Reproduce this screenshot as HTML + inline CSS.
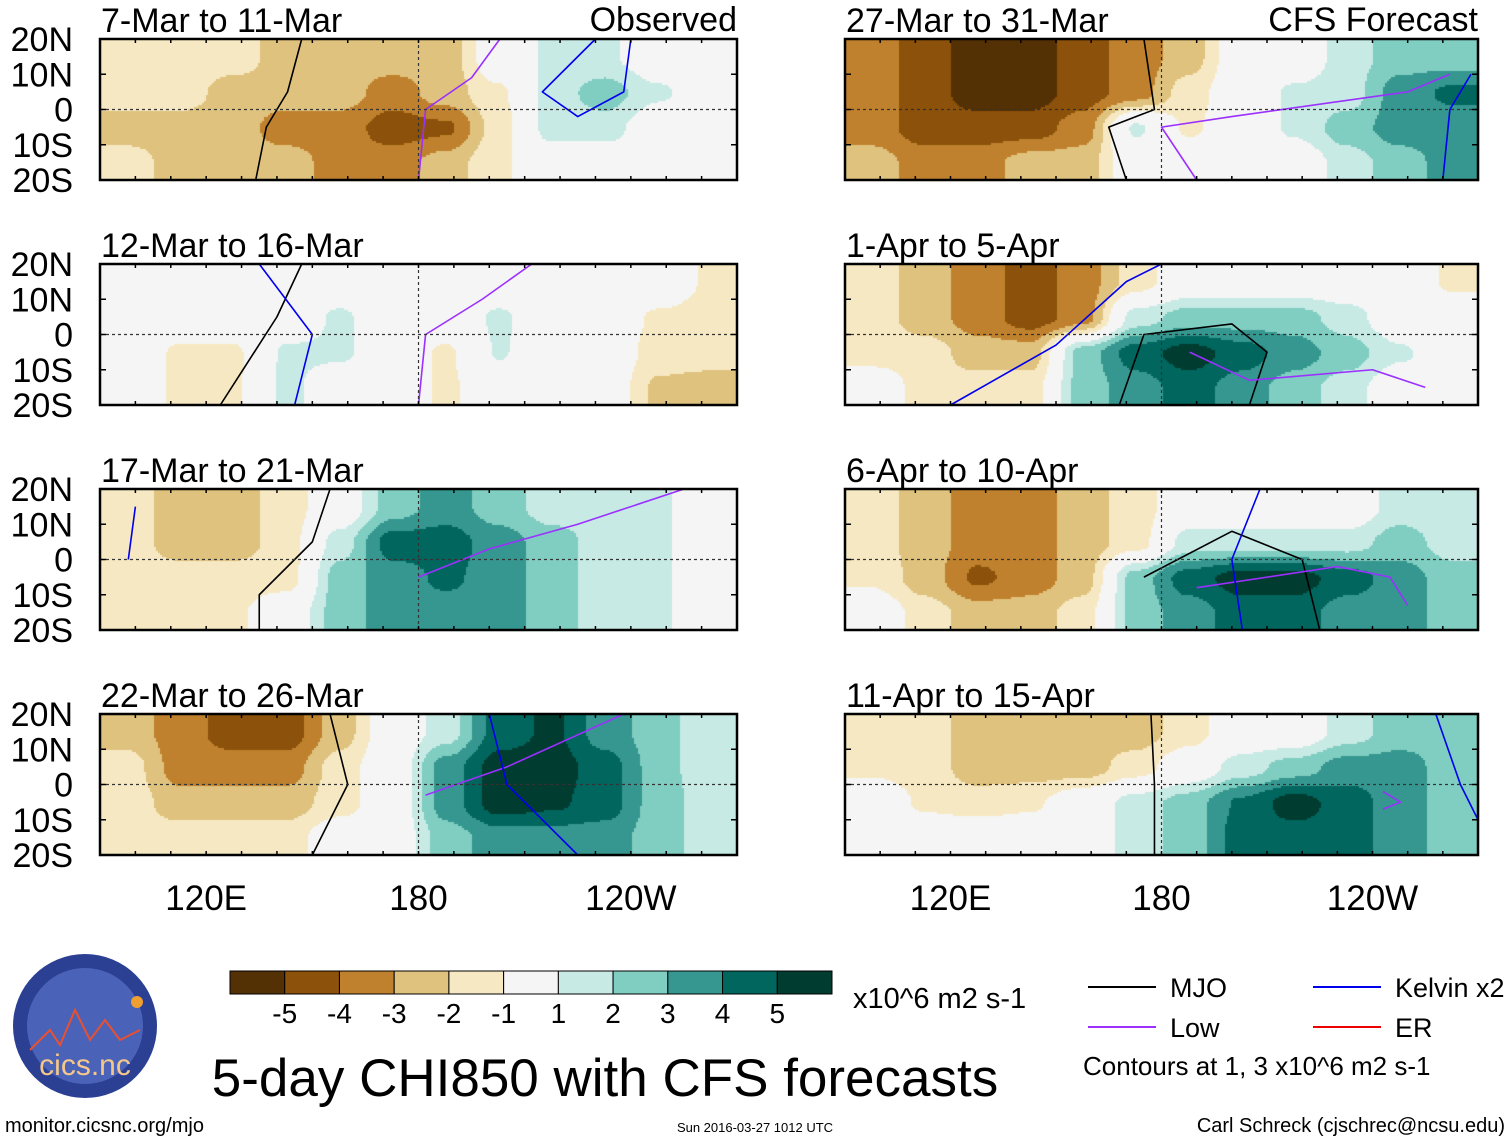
<!DOCTYPE html>
<html><head><meta charset="utf-8"><style>
body{margin:0;background:#fff;width:1510px;height:1142px;overflow:hidden;position:relative;font-family:"Liberation Sans",Arial,sans-serif}
canvas,svg{position:absolute;left:0;top:0}
</style></head><body>
<canvas id="field" width="1510" height="1142"></canvas>
<svg id="ov" width="1510" height="1142"></svg>
<script>
// Grid: 12 lon columns (90E..270E, 15° each) x 4 lat rows (20N-10N,10N-0,0-10S,10S-20S)
const panelTitles=["7-Mar to 11-Mar","12-Mar to 16-Mar","17-Mar to 21-Mar","22-Mar to 26-Mar","27-Mar to 31-Mar","1-Apr to 5-Apr","6-Apr to 10-Apr","11-Apr to 15-Apr"];
const field1=[[-1.2,-1.2,-1.5,-2.5,-2.5,-2.5,-2.5,0,1.2,1.2,0,0],[-1.5,-1.5,-2.5,-2.5,-2.5,-3.5,-2.5,-1.2,1.5,2.5,1.2,0],[-2.5,-2.5,-2.5,-3.5,-3.5,-4.5,-4.2,-1.5,1.5,1.5,0,0],[-1.5,-2.5,-2.5,-2.5,-3.5,-3.5,-2.5,-1.2,0,0,0,0]];
const field2=[[0,0,0,0,0,0,0,0,0,0,0,-1.2],[0,0,0,0,1.2,0,0,1.2,0,0,-1.2,-1.5],[0,-1.2,-1.2,1.2,1.2,0,-1.2,1.1,0,0,-1.5,-1.5],[0,-1.2,-1.2,1.3,0,0,-1.2,0,0,0,-2.2,-2.5]];
const field3=[[-1.5,-2.5,-2.5,-1.5,0,2.5,3.5,2.5,1.5,1.5,1.2,0],[-1.5,-2.5,-2.5,-1.5,1.5,4.5,4.5,3.5,2.5,1.5,1.2,0],[-1.5,-1.5,-1.5,-1.5,2.5,3.5,4.2,3.5,2.5,1.5,1.2,0],[-1.5,-1.5,-1.2,0,2.5,3.5,3.5,3.5,2.5,1.5,1.2,0]];
const field4=[[-2.5,-3.5,-4.5,-4.5,-2.5,0,1.5,4.5,5.2,3.5,2.5,1.2],[-1.5,-3.5,-3.5,-3.5,-1.5,0,3.5,5.5,5.5,4.5,2.5,1.2],[-1.5,-2.5,-2.5,-2.5,-1.5,0,3.5,5.5,5.2,4.5,2.5,1.5],[-1.5,-1.5,-1.5,-1.5,0,0,2.5,3.5,3.5,3.5,2.5,1.5]];
const field5=[[-3.5,-4.5,-5.5,-5.5,-4.5,-3.5,-2.5,0,0,1.5,2.5,2.5],[-3.5,-4.5,-5.5,-5.5,-4.5,-3.5,-1.5,0,1.2,1.5,3.5,4.2],[-3.5,-4.5,-4.5,-4.5,-3.5,1.2,-1.2,0,1.2,2.5,3.5,3.5],[-2.5,-3.5,-3.5,-2.5,-2.5,0,0,0,0,1.5,2.5,3.5]];
const field6=[[-1.5,-2.5,-3.5,-4.5,-3.5,-1.5,0,0,0,0,0,-1.2],[-1.5,-2.5,-3.5,-4.5,-3.5,1.5,2.5,2.5,2.5,1.5,0,0],[-1.5,-1.5,-2.5,-2.5,2.5,4.5,5.5,4.5,3.5,2.5,1.2,0],[0,-1.5,-1.5,-1.5,2.5,3.5,4.5,3.5,2.5,1.5,0,0]];
const field7=[[-1.5,-2.5,-3.5,-3.5,-2.5,-1.5,0,0,0,0,1.5,1.2],[-1.5,-2.5,-3.5,-3.5,-2.5,-1.5,1.5,1.5,1.5,1.5,2.5,1.5],[-1.2,-2.5,-4.2,-3.5,-2.5,2.5,4.5,5.5,5.5,4.5,3.5,2.5],[0,-1.5,-2.5,-2.5,-1.5,2.5,3.5,4.5,4.5,3.5,3.5,2.5]];
const field8=[[-1.5,-1.5,-2.5,-2.5,-2.5,-2.5,-1.5,0,0,1.5,2.5,2.5],[-1.2,-1.5,-2.5,-2.5,-2.5,-1.5,0,1.5,2.5,3.5,3.5,2.5],[0,-1.2,-1.5,-1.2,0,1.5,2.5,4.2,5.5,4.5,3.5,2.5],[0,0,0,0,0,1.5,2.5,4.5,4.5,4.5,3.5,2.5]];
const fields=[field1,field2,field3,field4,field5,field6,field7,field8];
// contours [lon,lat]
const mjoLines=[[[147,20],[143,5],[137,-5],[134,-20]],[[147,20],[140,5],[124,-20]],[[155,20],[150,5],[135,-10],[135,-20]],[[155,20],[160,0],[150,-20]],
 [[175,20],[178,0],[165,-5],[170,-20]],[[168,-20],[175,0],[200,3],[210,-5],[205,-20]],[[175,-5],[200,8],[220,0],[225,-20]],[[177,20],[178,0],[178,-20]]];
const lowLines=[[[180,-20],[182,0],[195,9],[203,20]],[[180,-20],[182,0],[198,10],[212,20]],[[180,-5],[200,3],[225,10],[255,20]],[[182,-3],[205,5],[238,20]],
 [[190,-20],[180,-5],[200,-2],[250,5],[262,10]],[[188,-5],[205,-13],[240,-10],[255,-15]],[[190,-8],[230,-2],[245,-5],[250,-13]],[[243,-2],[248,-5],[243,-7]]];
const kelvinLines=[[[230,20],[215,5],[225,-2],[238,5],[240,20]],[[135,20],[150,0],[145,-20]],[[98,0],[100,15]],[[200,20],[205,0],[225,-20]],
 [[260,-20],[262,0],[268,10]],[[120,-20],[150,-3],[170,15],[180,20]],[[208,20],[200,0],[203,-20]],[[258,20],[265,0],[270,-10]]];
const cbLabels=["-5","-4","-3","-2","-1","1","2","3","4","5"];
const latTicks=["20N","10N","0","10S","20S"];
const lonTicks=[["120E",120],["180",180],["120W",240]];
const colors=["#543005","#8c510a","#bf812d","#dfc27d","#f6e8c3","#f5f5f5","#c7eae5","#80cdc1","#35978f","#01665e","#003c30"];

const panels=[];
const tops=[39,264,489,714];
for(let i=0;i<8;i++){const c=i<4?0:1;panels.push({x:c?845:100,w:c?633:637,y:tops[i%4],h:141});}
function colorOf(v){const t=[-5,-4,-3,-2,-1,1,2,3,4,5];let k=0;while(k<10&&v>=t[k])k++;return colors[k];}
function sm(t){return t*t*(3-2*t);}
function sample(f,lon,lat){let gx=(lon-90)/15-0.5,gy=(20-lat)/10-0.5;gx=Math.max(0,Math.min(11,gx));gy=Math.max(0,Math.min(3,gy));
 const x0=Math.min(10,Math.floor(gx)),y0=Math.min(2,Math.floor(gy)),fx=sm(gx-x0),fy=sm(gy-y0);
 return f[y0][x0]*(1-fx)*(1-fy)+f[y0][x0+1]*fx*(1-fy)+f[y0+1][x0]*(1-fx)*fy+f[y0+1][x0+1]*fx*fy;}
const ctx=document.getElementById('field').getContext('2d');
panels.forEach((p,i)=>{for(let px=0;px<p.w;px+=2)for(let py=0;py<p.h;py+=2){const lon=90+px/p.w*180,lat=20-py/p.h*40;ctx.fillStyle=colorOf(sample(fields[i],lon,lat));ctx.fillRect(p.x+px,p.y+py,2,2);}});

const NS="http://www.w3.org/2000/svg",ov=document.getElementById('ov');
function mk(t,a,parent){const e=document.createElementNS(NS,t);for(const k in a)e.setAttribute(k,a[k]);(parent||ov).appendChild(e);return e;}
function txt(s,x,y,size,anchor,parent){const e=mk('text',{x:x,y:y,'font-size':size,'text-anchor':anchor||'start','font-family':'Liberation Sans, Arial, sans-serif',fill:'#000'},parent);e.textContent=s;return e;}
panels.forEach((p,i)=>{
 const g=mk('g',{});
 
 
 const X=lon=>p.x+(lon-90)/180*p.w, Y=lat=>p.y+(20-lat)/40*p.h;
 const ln=(arr,col)=>{const e=mk('polyline',{points:arr.map(q=>X(q[0])+','+Y(q[1])).join(' '),fill:'none',stroke:col,'stroke-width':1.6,'stroke-linejoin':'round'},g);return e;};
 const a=ln(mjoLines[i],'#000');
 const b=ln(lowLines[i],'#9b30ff');
 const k=ln(kelvinLines[i],'#0000ee');
 mk('line',{x1:p.x,x2:p.x+p.w,y1:Y(0),y2:Y(0),stroke:'#333','stroke-width':1.2,'stroke-dasharray':'3,3'},g);
 mk('line',{x1:X(180),x2:X(180),y1:p.y,y2:p.y+p.h,stroke:'#333','stroke-width':1.2,'stroke-dasharray':'3,3'},g);
 mk('rect',{x:p.x,y:p.y,width:p.w,height:p.h,fill:'none',stroke:'#000','stroke-width':2.5},g);
 for(let lon=90;lon<=270;lon+=10){mk('line',{x1:X(lon),x2:X(lon),y1:p.y,y2:p.y+4,stroke:'#000','stroke-width':1.5},g);mk('line',{x1:X(lon),x2:X(lon),y1:p.y+p.h,y2:p.y+p.h-4,stroke:'#000','stroke-width':1.5},g);}
 for(let lat=-20;lat<=20;lat+=10){mk('line',{x1:p.x,x2:p.x+6,y1:Y(lat),y2:Y(lat),stroke:'#000','stroke-width':1.5},g);mk('line',{x1:p.x+p.w,x2:p.x+p.w-6,y1:Y(lat),y2:Y(lat),stroke:'#000','stroke-width':1.5},g);}
 const t=txt(panelTitles[i],p.x+1,p.y-7,34,'start',g);
 if(i<4){latTicks.forEach((s,j)=>{const e=txt(s,73,p.y+j*p.h/4+12,34,'end',g);});}
 if(i%4===3){lonTicks.forEach(q=>{const e=txt(q[0],X(q[1]),910,35,'middle',g);});}
});
let e;
e=txt("Observed",737,31,34,'end');
e=txt("CFS Forecast",1478,31,34,'end');
// colorbar
const cb=mk('g',{});
const cbx=230,cbw=602/11;
colors.forEach((c,j)=>{mk('rect',{x:cbx+j*cbw,y:971,width:cbw,height:23,fill:c,stroke:'#000','stroke-width':1},cb);});
cbLabels.forEach((s,j)=>{txt(s,cbx+(j+1)*cbw,1023,28,'middle',cb);});
txt("x10^6 m2 s-1",853,1008,29,'start',cb);
e=txt("5-day CHI850 with CFS forecasts",605,1096,53,'middle');
// legend
const lg=mk('g',{});
[[1088,987,'#000','MJO'],[1313,987,'#0000ee','Kelvin x2'],[1088,1027,'#9b30ff','Low'],[1313,1027,'#ee0000','ER']].forEach(q=>{mk('line',{x1:q[0],x2:q[0]+68,y1:q[1],y2:q[1],stroke:q[2],'stroke-width':2},lg);txt(q[3],q[0]+82,q[1]+10,27,'start',lg);});
txt("Contours at 1, 3 x10^6 m2 s-1",1083,1075,26,'start',lg);
// logo
const lo=mk('g',{});
mk('circle',{cx:85,cy:1026,r:72,fill:'#2b3f93'},lo);
mk('circle',{cx:85,cy:1026,r:58,fill:'#4a63b8'},lo);
mk('polyline',{points:'30,1050 50,1030 60,1045 75,1010 90,1040 105,1020 120,1040 140,1030',fill:'none',stroke:'#e85030','stroke-width':2},lo);
mk('circle',{cx:137,cy:1002,r:6,fill:'#f0a030'},lo);
const ct=txt("cics.nc",85,1075,30,'middle',lo);ct.setAttribute('fill','#f5c78a');
e=txt("monitor.cicsnc.org/mjo",5,1132,20,'start');
e=txt("Sun 2016-03-27 1012 UTC",755,1132,13,'middle');
e=txt("Carl Schreck (cjschrec@ncsu.edu)",1505,1132,20,'end');
</script></body></html>
